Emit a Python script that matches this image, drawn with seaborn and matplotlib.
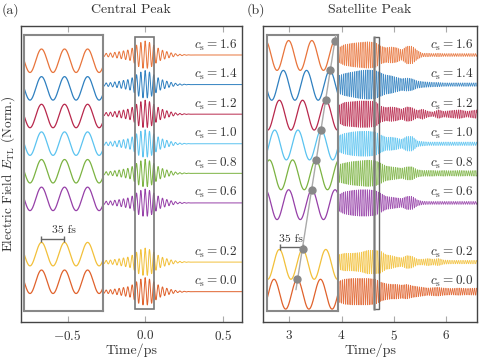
import numpy as np
import pandas as pd
import matplotlib
matplotlib.use("Agg")
import matplotlib.pyplot as plt
import seaborn as sns
from matplotlib.patches import Rectangle

# ---------------- data ----------------
c_values = [1.6, 1.4, 1.2, 1.0, 0.8, 0.6, 0.2, 0.0]
colors = ["#E8743B", "#2F80C0", "#B8284C", "#5BC3F0", "#7CB342", "#9640A8", "#F2C03A", "#E0622C"]

# (a) central peak: envelope knots (ps, field units) and carrier period
tA_knots = [-0.27, -0.22, -0.17, -0.13, -0.10, -0.07, -0.04, 0.0, 0.04, 0.07, 0.10, 0.13, 0.17, 0.21, 0.26, 0.30, 0.63]
envA_knots = [0.010, 0.014, 0.022, 0.030, 0.036, 0.055, 0.080, 0.095, 0.080, 0.055, 0.036, 0.026, 0.014, 0.006, 0.002, 0.0, 0.0]
periodA_main = 0.028      # ps, visible carrier spacing in panel (a)
period_zoom = 0.035       # ps, "35 fs" scale bar
crestA = 0.0014           # ps, crest position in the (a) zoom

# (b) satellite peak: envelope knots per row
tB_knots = [3.94, 4.05, 4.2, 4.35, 4.5, 4.65, 4.75, 4.85, 4.95, 5.05, 5.15, 5.25, 5.35, 5.45,
            5.55, 5.65, 5.75, 5.85, 5.95, 6.1, 6.25, 6.4, 6.6]
envB = {
    1.6: [0.05, 0.07, 0.08, 0.085, 0.09, 0.085, 0.06, 0.05, 0.055, 0.05, 0.035, 0.06, 0.06, 0.03, 0.012, 0.012, 0.01, 0.012, 0.01, 0.01, 0.01, 0.01, 0.01],
    1.4: [0.06, 0.075, 0.085, 0.095, 0.1, 0.095, 0.08, 0.065, 0.06, 0.05, 0.04, 0.045, 0.04, 0.025, 0.02, 0.018, 0.015, 0.015, 0.012, 0.012, 0.012, 0.012, 0.012],
    1.2: [0.06, 0.08, 0.085, 0.09, 0.09, 0.085, 0.055, 0.045, 0.05, 0.045, 0.035, 0.05, 0.045, 0.025, 0.035, 0.02, 0.015, 0.03, 0.02, 0.025, 0.03, 0.02, 0.03],
    1.0: [0.055, 0.07, 0.08, 0.085, 0.085, 0.08, 0.06, 0.045, 0.045, 0.04, 0.03, 0.05, 0.05, 0.02, 0.015, 0.012, 0.012, 0.012, 0.012, 0.012, 0.012, 0.012, 0.012],
    0.8: [0.06, 0.07, 0.08, 0.085, 0.09, 0.085, 0.07, 0.05, 0.045, 0.04, 0.035, 0.045, 0.045, 0.025, 0.02, 0.02, 0.02, 0.018, 0.02, 0.018, 0.02, 0.018, 0.02],
    0.6: [0.055, 0.075, 0.085, 0.09, 0.09, 0.085, 0.065, 0.045, 0.04, 0.035, 0.03, 0.045, 0.045, 0.02, 0.012, 0.01, 0.01, 0.01, 0.01, 0.01, 0.01, 0.01, 0.01],
    0.2: [0.05, 0.06, 0.06, 0.065, 0.08, 0.08, 0.075, 0.05, 0.045, 0.035, 0.03, 0.045, 0.04, 0.02, 0.02, 0.025, 0.02, 0.025, 0.015, 0.012, 0.012, 0.012, 0.012],
    0.0: [0.07, 0.085, 0.09, 0.09, 0.09, 0.085, 0.065, 0.055, 0.05, 0.05, 0.045, 0.05, 0.04, 0.035, 0.03, 0.025, 0.028, 0.03, 0.025, 0.022, 0.025, 0.022, 0.025],
}
crestB0 = 4.6502                                    # ps, crest of c_s=0.0 row in (b) zoom
delay_fs = {0.0: 0, 0.2: 8, 0.6: 22, 0.8: 28, 1.0: 36, 1.2: 43, 1.4: 49, 1.6: 57}  # crest shift

ampA_zoom = 0.085
ampB_zoom = 0.10

# ---------------- style ----------------
sns.set_theme(style="white")
plt.rcParams.update({
    "font.family": "serif",
    "font.serif": ["cmr10"],
    "mathtext.fontset": "cm",
    "axes.formatter.use_mathtext": True,
    "axes.unicode_minus": True,
})
TXT = "#333333"
W, H = 479, 361
fig = plt.figure(figsize=(W / 100, H / 100), dpi=100)
axA = fig.add_axes([20.7 / W, 39 / H, 221 / W, 296 / H])
axB = fig.add_axes([263.3 / W, 39 / H, 213.7 / W, 296 / H])

pal = dict(zip([f"{c:.1f}" for c in c_values], colors))
order = [f"{c:.1f}" for c in c_values]

# ---------------- panel (a) main traces ----------------
tA = np.linspace(-0.271, 0.63, 2400)
rows = []
for c in c_values:
    env = np.interp(tA, tA_knots, envA_knots)
    y = c + env * np.cos(2 * np.pi * tA / periodA_main)
    rows.append(pd.DataFrame({"t": tA, "y": y, "c": f"{c:.1f}"}))
dfA = pd.concat(rows)
sns.lineplot(data=dfA, x="t", y="y", hue="c", hue_order=order, palette=pal, estimator=None,
             sort=False, legend=False, lw=0.7, ax=axA)

# ---------------- panel (b) main traces ----------------
tB = np.linspace(3.937, 6.6, 6000)
rows = []
for c in c_values:
    env = np.interp(tB, tB_knots, envB[c])
    crest = crestB0 + delay_fs[c] / 1000
    y = c + env * np.cos(2 * np.pi * (tB - crest) / period_zoom)
    rows.append(pd.DataFrame({"t": tB, "y": y, "c": f"{c:.1f}"}))
dfB = pd.concat(rows)
sns.lineplot(data=dfB, x="t", y="y", hue="c", hue_order=order, palette=pal, estimator=None,
             sort=False, legend=False, lw=0.45, alpha=0.9, ax=axB)

for ax, xl in ((axA, (-0.803, 0.623)), (axB, (2.503, 6.59))):
    ax.set_xlim(*xl)
    ax.set_ylim(-0.205, 1.796)
    ax.set_yticks([])
    ax.set_xlabel("")
    ax.set_ylabel("")
    for s in ax.spines.values():
        s.set_color("#444444")
        s.set_linewidth(1.0)
    ax.tick_params(axis="x", direction="in", top=True, bottom=True, length=4, width=0.8,
                   color="#aaaaaa", labelsize=9.5, labelcolor=TXT, pad=5)

axA.set_xticks([-0.5, 0.0, 0.5])
axA.set_xticklabels([r"$-0.5$", r"$0.0$", r"$0.5$"])
axB.set_xticks([3, 4, 5, 6])
axB.set_xticklabels([r"$3$", r"$4$", r"$5$", r"$6$"])

# row labels
for c in c_values:
    axA.text(0.594, c + 0.068, rf"$c_{{\rm s}} = {c:.1f}$", ha="right", va="center",
             fontsize=9.5, color=TXT, zorder=6)
    axB.text(6.52, c + 0.068, rf"$c_{{\rm s}} = {c:.1f}$", ha="right", va="center",
             fontsize=9.5, color=TXT, zorder=6)

# boxes marking the zoomed windows
axA.add_patch(Rectangle((-0.0645, -0.119), 0.1225, 1.84, fill=False, ec="#777777", lw=1.2, zorder=4))
axB.add_patch(Rectangle((4.613, -0.119), 0.107, 1.84, fill=False, ec="#666666", lw=1.0, zorder=4))
axB.plot([4.615, 4.615], [-0.119, 1.721], color="#888888", lw=2.2, alpha=0.6, zorder=4)

# ---------------- zoom insets ----------------
def style_inset(ins):
    ins.set_facecolor("white")
    ins.set_xticks([])
    ins.set_yticks([])
    ins.set_xlabel("")
    ins.set_ylabel("")
    for s in ins.spines.values():
        s.set_color("#888888")
        s.set_linewidth(1.5)

insA = axA.inset_axes([-0.781, -0.130, 0.51, 1.862], transform=axA.transData)
tz = np.linspace(-0.062, 0.062, 600)
rows = []
for c in c_values:
    y = c + ampA_zoom * np.cos(2 * np.pi * (tz - crestA) / period_zoom)
    rows.append(pd.DataFrame({"t": tz, "y": y, "c": f"{c:.1f}"}))
sns.lineplot(data=pd.concat(rows), x="t", y="y", hue="c", hue_order=order, palette=pal,
             estimator=None, sort=False, legend=False, lw=0.9, ax=insA)
style_inset(insA)
insA.set_xlim(-0.06, 0.06)
insA.set_ylim(-0.211, 1.783)
insA.plot([-0.0346, -0.0346 + period_zoom], [0.313, 0.313], color="#666666", lw=1.0,
          marker="|", ms=5, mew=1.0)
insA.text(0.0, 0.338, "35 fs", ha="center", va="bottom", fontsize=8.5, color=TXT)

insB = axB.inset_axes([2.579, -0.130, 1.358, 1.862], transform=axB.transData)
tzb = np.linspace(4.60, 4.72, 600)
rows = []
for c in c_values:
    crest = crestB0 + delay_fs[c] / 1000
    y = c + ampB_zoom * np.cos(2 * np.pi * (tzb - crest) / period_zoom)
    rows.append(pd.DataFrame({"t": tzb, "y": y, "c": f"{c:.1f}"}))
sns.lineplot(data=pd.concat(rows), x="t", y="y", hue="c", hue_order=order, palette=pal,
             estimator=None, sort=False, legend=False, lw=0.9, ax=insB)
style_inset(insB)
insB.set_xlim(4.605, 4.712)
insB.set_ylim(-0.112, 1.734)

dot_c = sorted(delay_fs)
dot_x = np.array([crestB0 + delay_fs[c] / 1000 for c in dot_c])
dot_y = np.array([c + ampB_zoom for c in dot_c])
k, b0 = np.polyfit(dot_y, dot_x, 1)
ly = np.array([0.03, 1.80])
insB.plot(k * ly + b0, ly, color="#aaaaaa", lw=1.0, zorder=3)
insB.plot(dot_x, dot_y, ls="none", marker="o", ms=5, color="#888888", zorder=4)
insB.plot([4.6241, 4.6241 + period_zoom], [0.316, 0.316], color="#666666", lw=1.0,
          marker="|", ms=5, mew=1.0)
insB.text(4.6407, 0.335, "35 fs", ha="center", va="bottom", fontsize=8.5, color=TXT)

# ---------------- titles and labels ----------------
fig.text(131.2 / W, 1 - 10 / H, "Central Peak", ha="center", va="center", fontsize=10, color=TXT)
fig.text(370 / W, 1 - 10 / H, "Satellite Peak", ha="center", va="center", fontsize=10, color=TXT)
fig.text(2 / W, 1 - 10 / H, "(a)", ha="left", va="center", fontsize=10, color=TXT)
fig.text(247 / W, 1 - 10 / H, "(b)", ha="left", va="center", fontsize=10, color=TXT)
fig.text(131.2 / W, 1 - 350 / H, "Time/ps", ha="center", va="center", fontsize=10, color=TXT)
fig.text(370 / W, 1 - 350 / H, "Time/ps", ha="center", va="center", fontsize=10, color=TXT)
fig.text(8 / W, 1 - 174 / H, r"Electric Field $E_{\rm TL}$ (Norm.)", ha="center", va="center",
         rotation=90, fontsize=9.5, color=TXT)

fig.savefig("out.png", dpi=100)
